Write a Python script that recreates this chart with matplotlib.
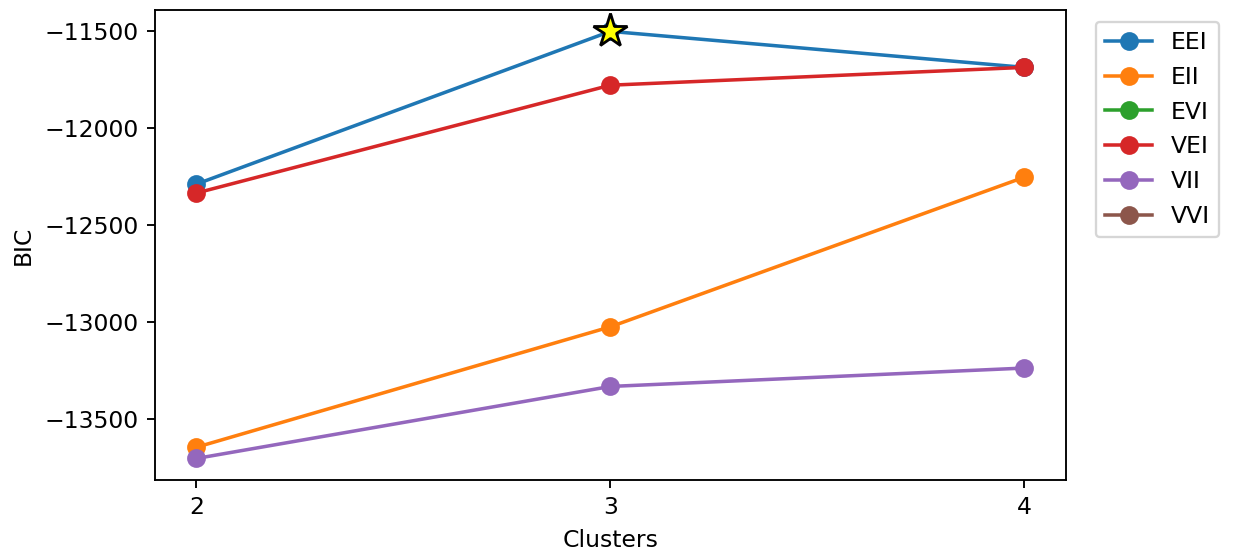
import numpy as np
import matplotlib
matplotlib.use('Agg')
import matplotlib.pyplot as plt

clusters = [2, 3, 4]
nan = np.nan

# BIC per covariance model (EVI, VVI failed -> no values)
EEI = [-12289, -11500, -11686]
EII = [-13648, -13026, -12253]
EVI = [nan, nan, nan]
VEI = [-12335, -11778, -11686]
VII = [-13706, -13334, -13239]
VVI = [nan, nan, nan]

models = ['EEI', 'EII', 'EVI', 'VEI', 'VII', 'VVI']
bics = [EEI, EII, EVI, VEI, VII, VVI]

best_model = 'EEI'
best_k = 3

dpi = 169
fig = plt.figure(figsize=(1235 / dpi, 556 / dpi), dpi=dpi)
ax = fig.add_axes([0.1255, 0.137, 0.7375, 0.845])

for name, vals in zip(models, bics):
    ax.plot(clusters, vals, marker='o', markersize=7, label=name)

best_val = bics[models.index(best_model)][clusters.index(best_k)]
ax.plot(best_k, best_val, marker='*', markersize=15, color='yellow',
        markeredgecolor='black', markeredgewidth=1.2, linestyle='none')

ax.set_xticks(clusters)
ax.set_xlabel('Clusters')
ax.set_ylabel('BIC')
ax.legend(loc='upper left', bbox_to_anchor=(1.02, 1))

fig.savefig('out.png', dpi=dpi)
